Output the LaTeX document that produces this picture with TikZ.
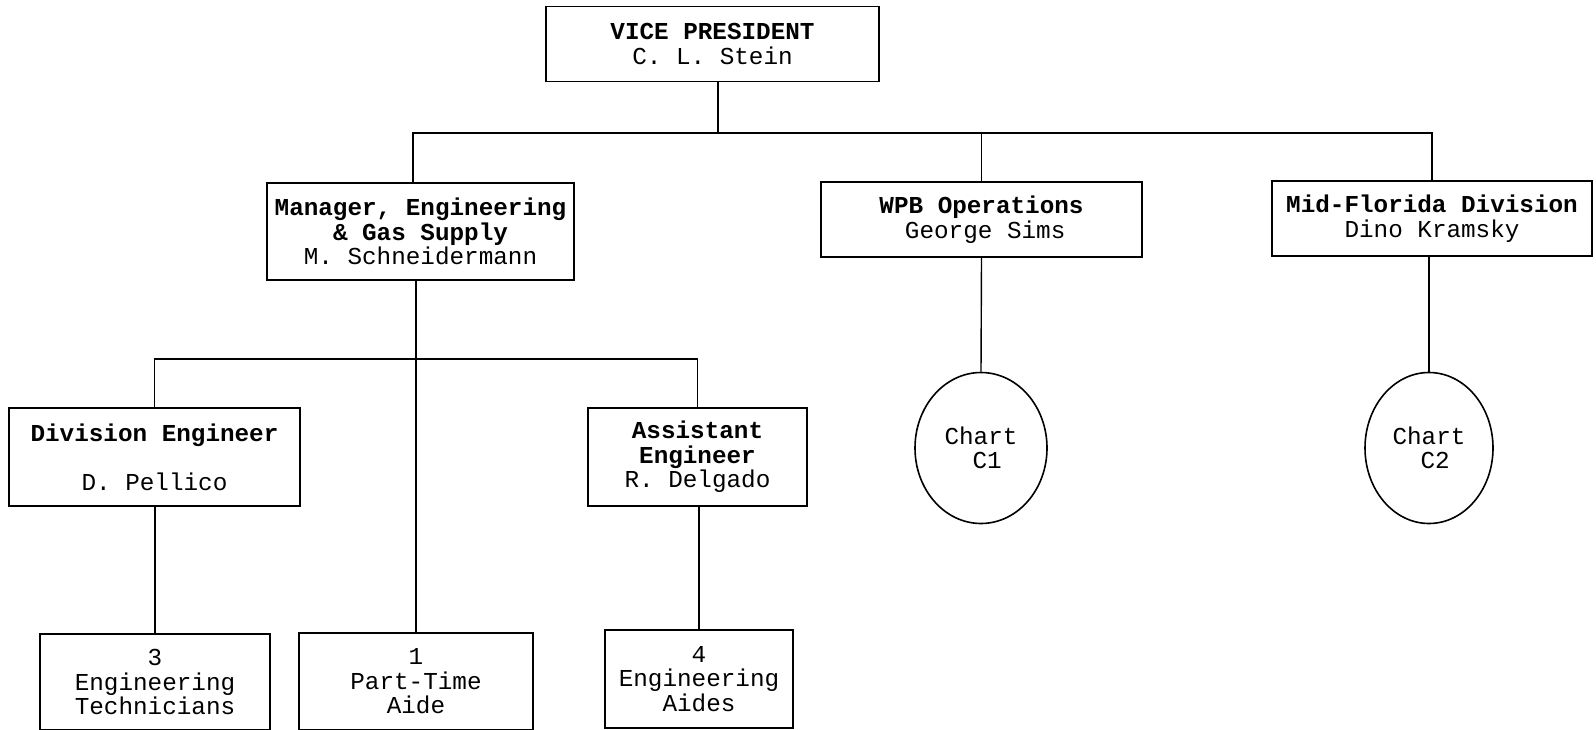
\documentclass[tikz,border=0pt]{standalone}
\usepackage{fontspec}
\setmonofont{Liberation Mono}
\usetikzlibrary{shapes.geometric}
\begin{document}
\begin{tikzpicture}[x=1pt,y=-1pt,
  box/.style={draw=black, line width=1.8pt, rectangle, inner sep=0pt, align=center,
    font=\ttfamily\fontsize{24.3}{24.5}\selectfont},
  chart/.style={draw=black, line width=1.6pt, ellipse, inner sep=0pt, align=center,
    font=\ttfamily\fontsize{24.3}{24.5}\selectfont},
  link/.style={draw=black, line width=1.4pt}]
\useasboundingbox (0,0) rectangle (1596,730);
\fill[white] (0,0) rectangle (1596,730);

\node[box, minimum width=333pt, minimum height=75pt] (vp) at (712.5,44)
  {\textbf{VICE PRESIDENT}\\C. L. Stein};
\node[box, minimum width=307pt, minimum height=97pt] (mgr) at (420.5,231.5)
  {\textbf{Manager, Engineering}\\\textbf{\& Gas Supply}\\M. Schneidermann};
\node[box, minimum width=321pt, minimum height=75pt] (wpb) at (981.5,219.5)
  {\textbf{WPB Operations}\\\hspace*{0.3em}George Sims};
\node[box, minimum width=320pt, minimum height=75pt] (mf) at (1432,218.5)
  {\textbf{Mid-Florida Division}\\Dino Kramsky};

\node[box, minimum width=291pt, minimum height=98pt] (de) at (154.5,457)
  {\textbf{Division Engineer}\\[24.5pt]D. Pellico};
\node[box, minimum width=219pt, minimum height=98pt] (ae) at (697.5,457)
  {\textbf{Assistant}\\\textbf{Engineer}\\R. Delgado};

\node[box, minimum width=230pt, minimum height=96pt] (tech) at (155,682)
  {3\\Engineering\\Technicians};
\node[box, minimum width=234pt, minimum height=97pt] (pt) at (416,681.5)
  {1\\Part-Time\\Aide};
\node[box, minimum width=188pt, minimum height=98pt] (aides) at (699,679)
  {4\\Engineering\\Aides};

\node[chart, minimum width=132pt, minimum height=151pt] (c1) at (981,448)
  {Chart\\\hspace*{0.5em}C1};
\node[chart, minimum width=128pt, minimum height=151pt] (c2) at (1429,448)
  {Chart\\\hspace*{0.5em}C2};

\coordinate (bus) at (0,133);
\coordinate (bus2) at (0,359);
\coordinate (vpdrop) at (718,0);
\coordinate (mgrup) at (413,0);

\draw[link] (vpdrop |- vp.south) -- (vpdrop |- bus);
\draw[link] (mgrup |- mgr.north) -- (mgrup |- bus) -- (mf.north |- bus) -- (mf.north);
\draw[link] (wpb.north) -- (wpb.north |- bus);
\draw[link] (wpb.south) -- (c1.north);
\draw[link] (c2.north |- mf.south) -- (c2.north);

\draw[link] (pt.north |- mgr.south) -- (pt.north);
\draw[link] (de.north) -- (de.north |- bus2) -- (ae.north |- bus2) -- (ae.north);
\draw[link] (tech.north |- de.south) -- (tech.north);
\draw[link] (aides.north |- ae.south) -- (aides.north);
\end{tikzpicture}
\end{document}
